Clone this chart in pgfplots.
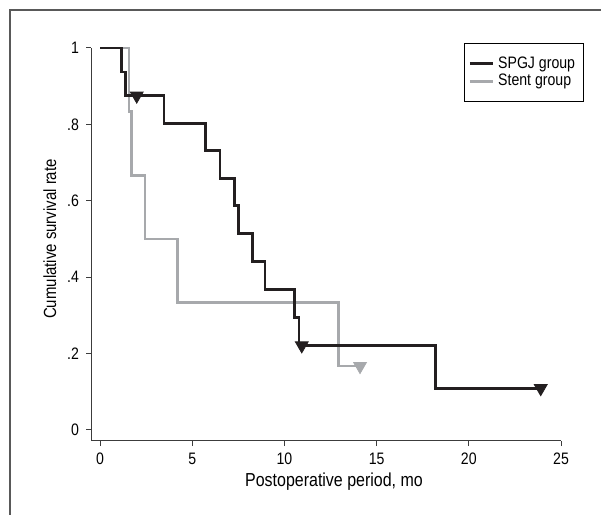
\documentclass[border=0pt]{standalone}
\usepackage{fontspec}
\setmainfont{Liberation Sans}[FakeStretch=0.85]
\usepackage{pgfplots}
\pgfplotsset{compat=1.18}
\definecolor{spgj}{HTML}{231F20}
\definecolor{stent}{HTML}{A7A9AC}
\definecolor{axisgray}{HTML}{3C3C3C}
\begin{document}
\begin{tikzpicture}
\useasboundingbox (0pt,0pt) rectangle (300.5pt,257.5pt);
\draw[line width=0.6pt, black!65] (5pt,-1pt) -- (5pt,252.5pt) -- (302pt,252.5pt);
\begin{axis}[
  at={(45.5pt,37pt)}, anchor=south west,
  scale only axis, width=235pt, height=196.5pt,
  xmin=-0.49, xmax=25, ymin=-0.029, ymax=1,
  clip=false,
  axis lines*=left,
  axis line style={axisgray, line width=0.5pt},
  tick style={axisgray, line width=0.5pt},
  major tick length=2.5pt,
  tick align=outside,
  xtick={0,5,10,15,20,25}, xticklabels={0,5,10,15,20,25},
  ytick={0,0.2,0.4,0.6,0.8,1}, yticklabels={0,.2,.4,.6,.8,1},
  /pgf/number format/assume math mode=true,
  tick label style={font=\fontsize{8.3}{9}\selectfont},
  xlabel={Postoperative period, mo},
  xlabel style={at={(axis description cs:0.517,-0.1163)}, anchor=base, font=\fontsize{9.4}{11}\selectfont},
  ylabel={Cumulative survival rate},
  ylabel style={at={(axis description cs:-0.074,0.514)}, anchor=base, font=\fontsize{8.8}{10}\selectfont},
  legend style={at={(axis description cs:0.7936,1.0127)}, anchor=north west,
    draw=black, line width=0.5pt, font=\fontsize{8.3}{9}\selectfont,
    inner xsep=2pt, inner ysep=4.5pt, row sep=-2.5pt, cells={anchor=west}},
  legend image code/.code={\draw[#1] (0pt,0pt) -- (11.5pt,0pt);},
]
\addplot[stent, line width=1.35pt, const plot, forget plot] coordinates {
  (0,1) (1.57,0.833) (1.72,0.667) (2.44,0.5) (4.19,0.333) (12.93,0.167) (14.1,0.167)};
\addplot[spgj, line width=1.35pt, const plot] coordinates {
  (0,1) (1.18,0.9375) (1.39,0.875) (3.47,0.803) (5.73,0.731) (6.51,0.658)
  (7.3,0.587) (7.52,0.515) (8.28,0.441) (8.95,0.368) (10.54,0.295)
  (10.79,0.221) (18.2,0.109) (23.9,0.109)};
\addlegendentry{SPGJ group}
\addlegendimage{stent, line width=1.35pt}
\addlegendentry{Stent group}
\addplot[only marks, mark=triangle*, mark size=3.7pt,
  mark options={rotate=180, fill=spgj, draw=spgj}, forget plot] coordinates {
  (1.99,0.875) (10.94,0.221) (23.9,0.109)};
\addplot[only marks, mark=triangle*, mark size=3.7pt,
  mark options={rotate=180, fill=stent, draw=stent}, forget plot] coordinates {
  (14.1,0.167)};
\end{axis}
\end{tikzpicture}
\end{document}
